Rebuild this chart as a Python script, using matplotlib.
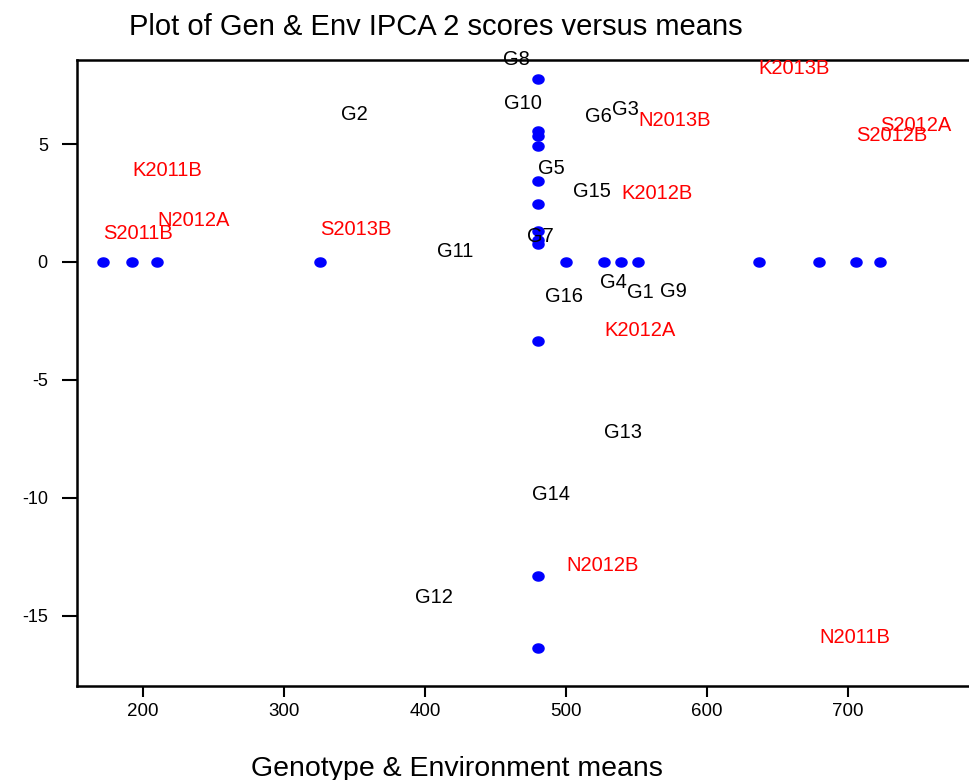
import matplotlib

matplotlib.use("Agg")
import matplotlib.pyplot as plt  # noqa: E402
import numpy as np  # noqa: E402
from matplotlib.path import Path  # noqa: E402

plt.rcParams["font.family"] = ["Liberation Sans", "DejaVu Sans"]

# Environment means and IPCA 2 scores
env_names = ["K2011B", "N2012A", "S2011B", "S2013B", "K2013B", "N2013B",
             "S2012A", "S2012B", "K2012B", "K2012A", "N2012B", "N2011B"]
env_mean = [192.2, 209.9, 171.6, 325.5, 636.7, 551.3,
            722.7, 705.7, 539.2, 527.2, 500.0, 679.6]
env_score = [3.42, 1.33, 0.76, 0.93, 7.75, 5.56,
             5.35, 4.92, 2.46, -3.35, -13.29, -16.37]

# Genotype means and IPCA 2 scores
gen_names = ["G1", "G2", "G3", "G4", "G5", "G6", "G7", "G8",
             "G9", "G10", "G11", "G12", "G13", "G14", "G15", "G16"]
gen_mean = [543.0, 340.4, 532.4, 524.1, 480.4, 513.5, 472.1, 455.2,
            566.7, 456.3, 408.3, 392.8, 527.0, 476.2, 504.7, 485.1]
gen_score = [-1.75, 5.81, 6.02, -1.30, 3.52, 5.74, 0.65, 8.14,
             -1.68, 6.27, 0.02, -14.67, -7.68, -10.29, 2.56, -1.92]

grand_mean = 480.4

xticks = [200, 300, 400, 500, 600, 700]
yticks = [5, 0, -5, -10, -15]

# slightly flattened dot
t = np.linspace(0, 2 * np.pi, 40)
dot = Path(np.c_[np.cos(t), 0.82 * np.sin(t)], closed=True)

fig = plt.figure(figsize=(9.69, 7.8), dpi=100)
W, H = 969, 780
ax = fig.add_axes([77 / W, (H - 686) / H, (W - 77) / W, (686 - 60) / H])

# env projections on both axes
ax.plot(env_mean, np.zeros(len(env_mean)), linestyle="none", marker=dot,
        color="#0000ff", markersize=8, clip_on=False, zorder=3)
ax.plot(np.full(len(env_score), grand_mean), env_score, linestyle="none",
        marker=dot, color="#0000ff", markersize=8, clip_on=False, zorder=3)

for name, x, y in zip(gen_names, gen_mean, gen_score):
    ax.annotate(name, (x, y), xytext=(0, 7.5), textcoords="offset points",
                ha="left", va="center", fontsize=14.5, color="black",
                annotation_clip=False)
for name, x, y in zip(env_names, env_mean, env_score):
    ax.annotate(name, (x, y), xytext=(0, 7.5), textcoords="offset points",
                ha="left", va="center", fontsize=14.5, color="#ff0000",
                annotation_clip=False)

ax.set_xlim(153.2, 785.8)
ax.set_ylim(-17.97, 8.56)
ax.set_xticks(xticks)
ax.set_yticks(yticks)
ax.set_yticklabels([str(v) for v in yticks])
ax.tick_params(axis="x", direction="out", length=8, width=1.5, pad=4,
               labelsize=13.5)
ax.tick_params(axis="y", direction="out", length=11, width=1.5, pad=10,
               labelsize=13)
ax.spines["right"].set_visible(False)
for side in ("left", "bottom", "top"):
    ax.spines[side].set_linewidth(1.8)

fig.text(436 / W, 1 - 27 / H, "Plot of Gen & Env IPCA 2 scores versus means",
         ha="center", va="center", fontsize=21)
fig.text(457 / W, 1 - 769 / H, "Genotype & Environment means",
         ha="center", va="center", fontsize=20.5)

fig.savefig("out.png", dpi=100)
